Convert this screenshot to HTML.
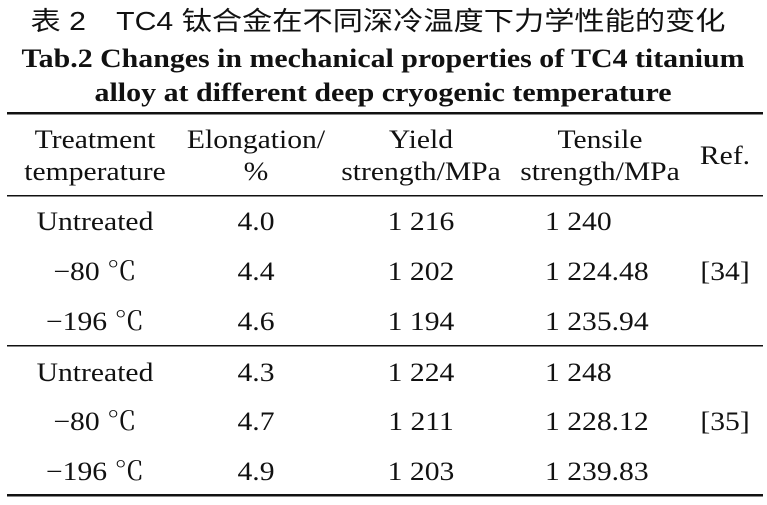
<!DOCTYPE html>
<html><head><meta charset="utf-8"><style>
html,body{margin:0;padding:0;background:#fff;}
svg{display:block}
.t{font-family:"Liberation Serif","Noto Serif CJK SC",serif;font-size:26px;fill:#111}
</style></head><body>
<svg width="767" height="505" viewBox="0 0 767 505" xmlns="http://www.w3.org/2000/svg">
<text x="378" y="30" text-anchor="middle" textLength="695" lengthAdjust="spacingAndGlyphs" style="font-family:'Liberation Sans','Noto Sans CJK SC',sans-serif;font-size:26px;fill:#111">表 2　TC4 钛合金在不同深冷温度下力学性能的变化</text>
<text x="383" y="67" text-anchor="middle" textLength="723" lengthAdjust="spacingAndGlyphs" style="font-family:'Liberation Serif',serif;font-weight:bold;font-size:26px;fill:#111">Tab.2 Changes in mechanical properties of TC4 titanium</text>
<text x="383" y="101" text-anchor="middle" textLength="577" lengthAdjust="spacingAndGlyphs" style="font-family:'Liberation Serif',serif;font-weight:bold;font-size:26px;fill:#111">alloy at different deep cryogenic temperature</text>
<rect x="7" y="112" width="756" height="2.5" fill="#111"/>
<rect x="7" y="195" width="756" height="1.5" fill="#111"/>
<rect x="7" y="345" width="756" height="1.5" fill="#111"/>
<rect x="7" y="494" width="756" height="2.5" fill="#111"/>
<g class="t" text-anchor="middle">
<g transform="translate(95,0) scale(1.14,1)"><text y="148">Treatment</text><text y="180">temperature</text>
<text y="230">Untreated</text><text y="280">−80 ℃</text><text y="330">−196 ℃</text>
<text y="381">Untreated</text><text y="430">−80 ℃</text><text y="480">−196 ℃</text></g>
<g transform="translate(256,0) scale(1.14,1)"><text y="148">Elongation/</text><text y="180">%</text>
<text y="230">4.0</text><text y="280">4.4</text><text y="330">4.6</text>
<text y="381">4.3</text><text y="430">4.7</text><text y="480">4.9</text></g>
<g transform="translate(421,0) scale(1.14,1)"><text y="148">Yield</text><text y="180">strength/MPa</text>
<text y="230">1 216</text><text y="280">1 202</text><text y="330">1 194</text>
<text y="381">1 224</text><text y="430">1 211</text><text y="480">1 203</text></g>
<g transform="translate(600,0) scale(1.14,1)"><text y="148">Tensile</text><text y="180">strength/MPa</text></g>
<g transform="translate(725,0) scale(1.14,1)"><text y="164">Ref.</text><text y="280">[34]</text><text y="430">[35]</text></g>
</g>
<g class="t" transform="translate(545,0) scale(1.14,1)">
<text y="230">1 240</text><text y="280">1 224.48</text><text y="330">1 235.94</text>
<text y="381">1 248</text><text y="430">1 228.12</text><text y="480">1 239.83</text>
</g>
</svg>
</body></html>
